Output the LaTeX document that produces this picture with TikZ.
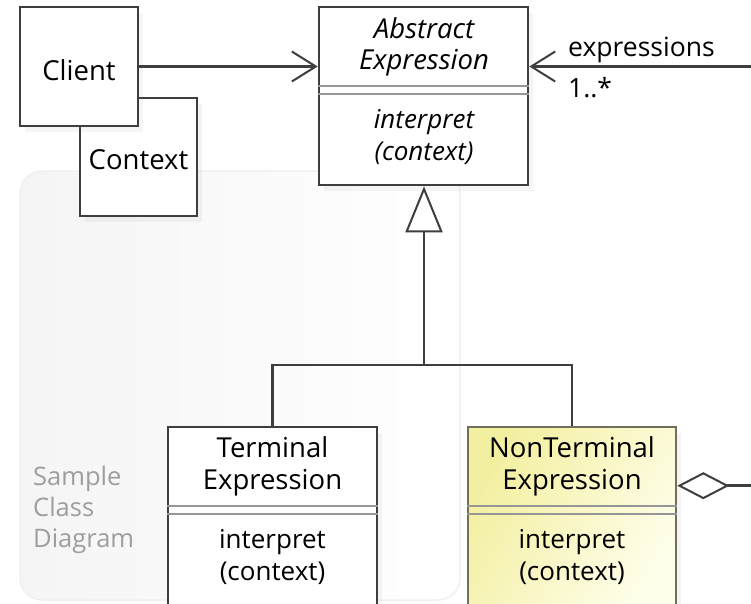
\documentclass[tikz,border=0pt]{standalone}
\usepackage{fontspec}
\setmainfont{Open Sans}
\usetikzlibrary{arrows.meta,calc,shadows}
\tikzset{
	x=1pt, y=-1pt, % one unit is one pixel of the sketch, y runs downwards
	classbox/.style={rectangle, draw=boxline, line width=2.6pt, fill=white, inner sep=0pt,
		drop shadow={opacity=0.08, shadow xshift=5pt, shadow yshift=-6pt}}, % a class with its shadow
	classtext/.style={align=center, inner sep=0pt, text=black, font=\fontsize{27.5}{32}\selectfont},
	sepline/.style={draw=sepgray, line width=2pt}, % the double line between name and operations
	link/.style={draw=boxline, line width=2.6pt},
	assoc/.style={link, -{Straight Barb[length=24pt, width=30pt, line width=2pt]}},
	aggr/.style={link, {Diamond[open, length=52pt, width=27pt, line width=2pt]}-{Straight Barb[length=24pt, width=30pt, line width=2pt]}},
	inherit/.style={link, -{Triangle[open, length=46pt, width=37pt, line width=2pt]}},
	rolelabel/.style={anchor=west, inner sep=0pt, text=black, font=\fontsize{26.5}{30}\selectfont}
}
\begin{document}
\begin{tikzpicture}
\definecolor{boxline}{RGB}{62,62,62}
\definecolor{sepgray}{RGB}{150,150,150}
\definecolor{ntline}{RGB}{112,112,90}
\definecolor{ntyellow}{RGB}{243,239,160}
\definecolor{ntwhite}{RGB}{255,255,238}
\useasboundingbox (0,0) rectangle (751,604);
\clip (0,0) rectangle (751,604);
\fill[white] (0,0) rectangle (751,604);

% frame of the sample
\draw[draw=black!6, line width=1.5pt, rounded corners=22pt, left color=black!4, right color=white]
	(20,171) rectangle (460,600);
\node[anchor=north west, align=left, inner sep=0pt, text=black!38, font=\fontsize{25.5}{31}\selectfont]
	(framelabel) at (33,466) {Sample\\Class\\Diagram};

% classes
\node[classbox, minimum width=117pt, minimum height=118pt] (context) at (138.5,157) {};
\node[classtext] (contextname) at (138.5,160) {Context};
\node[classbox, minimum width=118pt, minimum height=119pt] (client) at (79,66.5) {};
\node[classtext] (clientname) at (79,70) {Client};

\node[classbox, minimum width=209pt, minimum height=178pt] (abstr) at (423.5,96) {};
\node[classtext, font=\fontsize{27.5}{31}\selectfont\itshape] (abstrname) at (424,47) {Abstract\\Expression};
\node[classtext, font=\fontsize{26}{32}\selectfont\itshape] (abstrop) at (424,137) {interpret\\(context)};
\draw[sepline] (abstr.west |- 0,86) -- (abstr.east |- 0,86);
\draw[sepline] (abstr.west |- 0,94) -- (abstr.east |- 0,94);

\node[classbox, minimum width=209pt, minimum height=200pt] (term) at (272.5,527) {};
\node[classtext] (termname) at (272.5,466) {Terminal\\Expression};
\node[classtext, font=\fontsize{26}{32}\selectfont] (termop) at (272.5,557) {interpret\\(context)};
\draw[sepline] (term.west |- 0,506) -- (term.east |- 0,506);
\draw[sepline] (term.west |- 0,514) -- (term.east |- 0,514);

\node[classbox, draw=ntline, left color=ntyellow, right color=ntwhite, shading angle=60,
	minimum width=208pt, minimum height=200pt] (nonterm) at (572,527) {};
\node[classtext] (ntname) at (572,466) {NonTerminal\\Expression};
\node[classtext, font=\fontsize{26}{32}\selectfont] (ntop) at (572,557) {interpret\\(context)};
\draw[sepline] (nonterm.west |- 0,506) -- (nonterm.east |- 0,506);
\draw[sepline] (nonterm.west |- 0,514) -- (nonterm.east |- 0,514);

% connectors
\coordinate (fork) at (424,365);
\draw[assoc] (client.east) -- (client.east -| abstr.west);
\draw[aggr] ([yshift=-60pt]nonterm.north east) -- ++(120,0) |- (abstr.east |- client.east);
\draw[inherit] (fork) -- (abstr.south -| fork);
\draw[link] (term.north) |- (fork) -| (nonterm.north);

\node[rolelabel] (rolename) at (568,50) {expressions};
\node[rolelabel] (multiplicity) at (568,88) {1..*};
\end{tikzpicture}
\end{document}
